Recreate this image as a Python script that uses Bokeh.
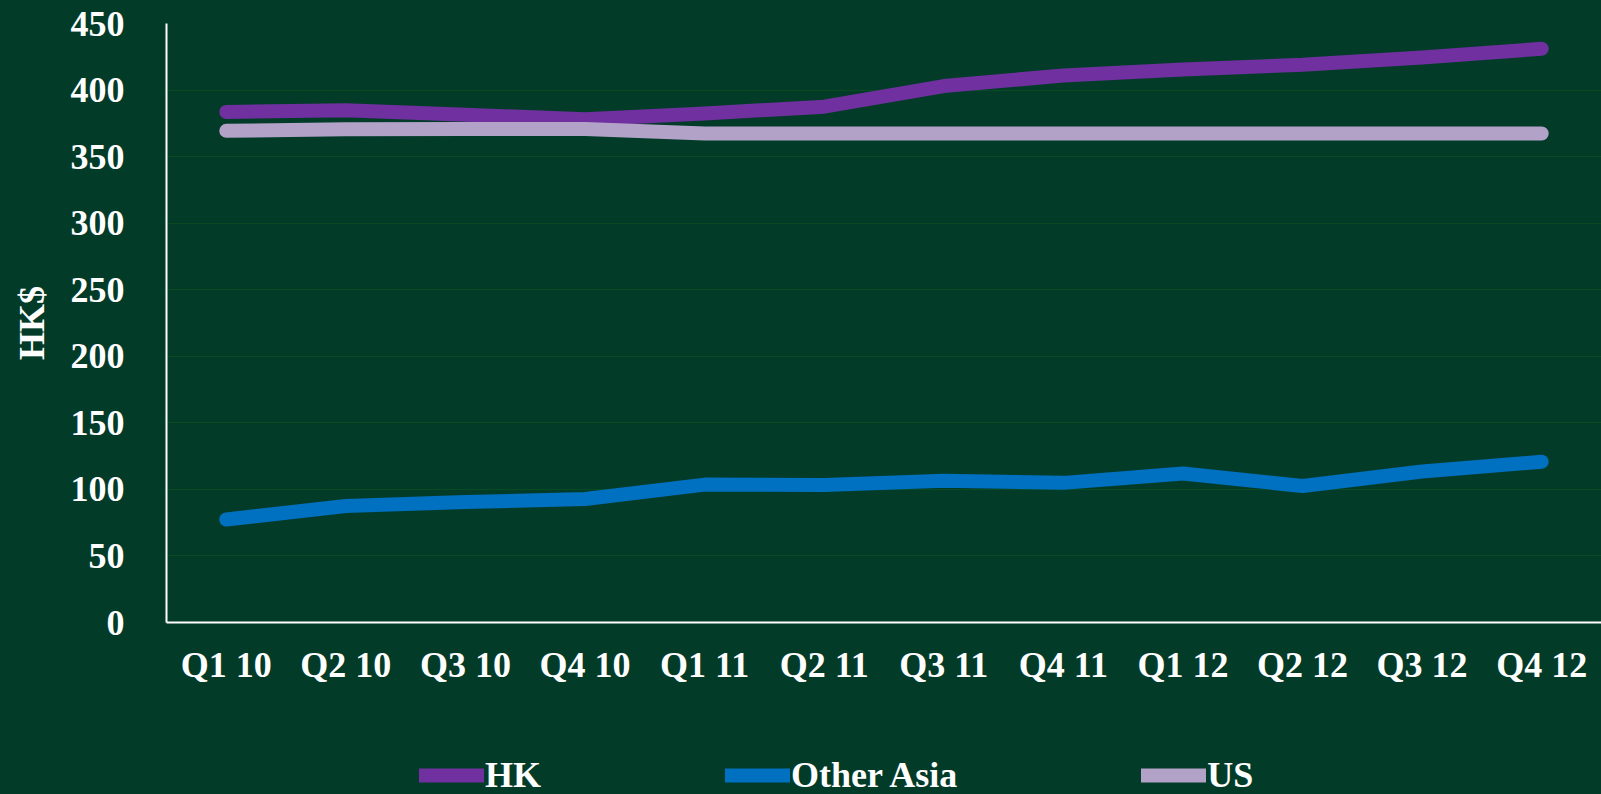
from bokeh.plotting import figure
from bokeh.models import Legend, LegendItem, FixedTicker, Range1d
from bokeh.layouts import column
from bokeh.embed import file_html
from bokeh.resources import INLINE

quarters = ["Q1 10", "Q2 10", "Q3 10", "Q4 10", "Q1 11", "Q2 11", "Q3 11", "Q4 11",
            "Q1 12", "Q2 12", "Q3 12", "Q4 12"]
hk = [383.6, 384.9, 381.5, 378.0, 382.4, 387.5, 403.0, 411.0, 415.5, 419.0, 424.5, 431.0]
other_asia = [77.4, 87.5, 90.5, 92.8, 103.6, 103.3, 106.5, 104.9, 112.0, 102.5, 113.4, 120.8]
us = [369.4, 370.6, 370.8, 370.8, 367.4, 367.4, 367.4, 367.4, 367.4, 367.4, 367.4, 367.4]
series_names = ["HK", "Other Asia", "US"]
series_colors = ["#7030A0", "#0070C0", "#B3A2C7"]
y_ticks = [0, 50, 100, 150, 200, 250, 300, 350, 400, 450]

BG = "#033B29"
FONT = "Liberation Serif"
series = [hk, other_asia, us]

p = figure(x_range=quarters, y_range=Range1d(0, 450), width=1601, height=700,
           output_backend="svg", toolbar_location=None,
           min_border_left=166, min_border_right=0, min_border_top=23,
           min_border_bottom=78, styles={"background-color": BG})
p.x_range.range_padding = 0
p.background_fill_color = BG
p.border_fill_color = BG
p.outline_line_color = None

p.xgrid.grid_line_color = None
p.ygrid.grid_line_color = "#0A4A22"
p.ygrid.grid_line_width = 1

p.yaxis.ticker = FixedTicker(ticks=y_ticks)
for ax in (p.xaxis[0], p.yaxis[0]):
    ax.axis_line_color = "white"
    ax.axis_line_width = 2
    ax.major_tick_line_color = None
    ax.minor_tick_line_color = None
    ax.major_tick_out = 0
    ax.major_tick_in = 0
    ax.major_label_text_color = "white"
    ax.major_label_text_font = FONT
    ax.major_label_text_font_style = "bold"
    ax.major_label_text_font_size = "36px"
p.xaxis.major_label_standoff = 22
p.yaxis.major_label_standoff = 42
p.yaxis.axis_label = "HK$"
p.yaxis.axis_label_text_color = "white"
p.yaxis.axis_label_text_font = FONT
p.yaxis.axis_label_text_font_style = "bold"
p.yaxis.axis_label_text_font_size = "36px"
p.yaxis.axis_label_standoff = 16

for vals, name, col in zip(series, series_names, series_colors):
    p.line(quarters, vals, line_color=col, line_width=14,
           line_cap="round", line_join="round")

# legend strip below the chart (its own lines sit outside its visible y range)
pl = figure(width=1601, height=94, output_backend="svg", toolbar_location=None,
            x_range=quarters, y_range=Range1d(1000, 1001),
            min_border_left=166, min_border_right=0, min_border_top=0, min_border_bottom=0,
            styles={"background-color": BG})
pl.axis.visible = False
pl.grid.visible = False
pl.background_fill_color = BG
pl.border_fill_color = BG
pl.outline_line_color = None
leg_renderers = []
for vals, name, col in zip(series, series_names, series_colors):
    leg_renderers.append(pl.line(quarters, vals, line_color=col, line_width=14,
                                 line_cap="round", line_join="round"))

legend = Legend(items=[LegendItem(label=n, renderers=[r]) for n, r in zip(series_names, leg_renderers)],
                orientation="horizontal", location=(253, -2),
                background_fill_alpha=0, border_line_color=None,
                padding=0, margin=0, spacing=184,
                glyph_width=65, glyph_height=20, label_standoff=1,
                label_text_color="white", label_text_font=FONT,
                label_text_font_style="bold", label_text_font_size="36px")
pl.add_layout(legend, "center")

layout = column(p, pl, spacing=0, styles={"background-color": BG})
open("out.html", "w").write(file_html(layout, INLINE))
